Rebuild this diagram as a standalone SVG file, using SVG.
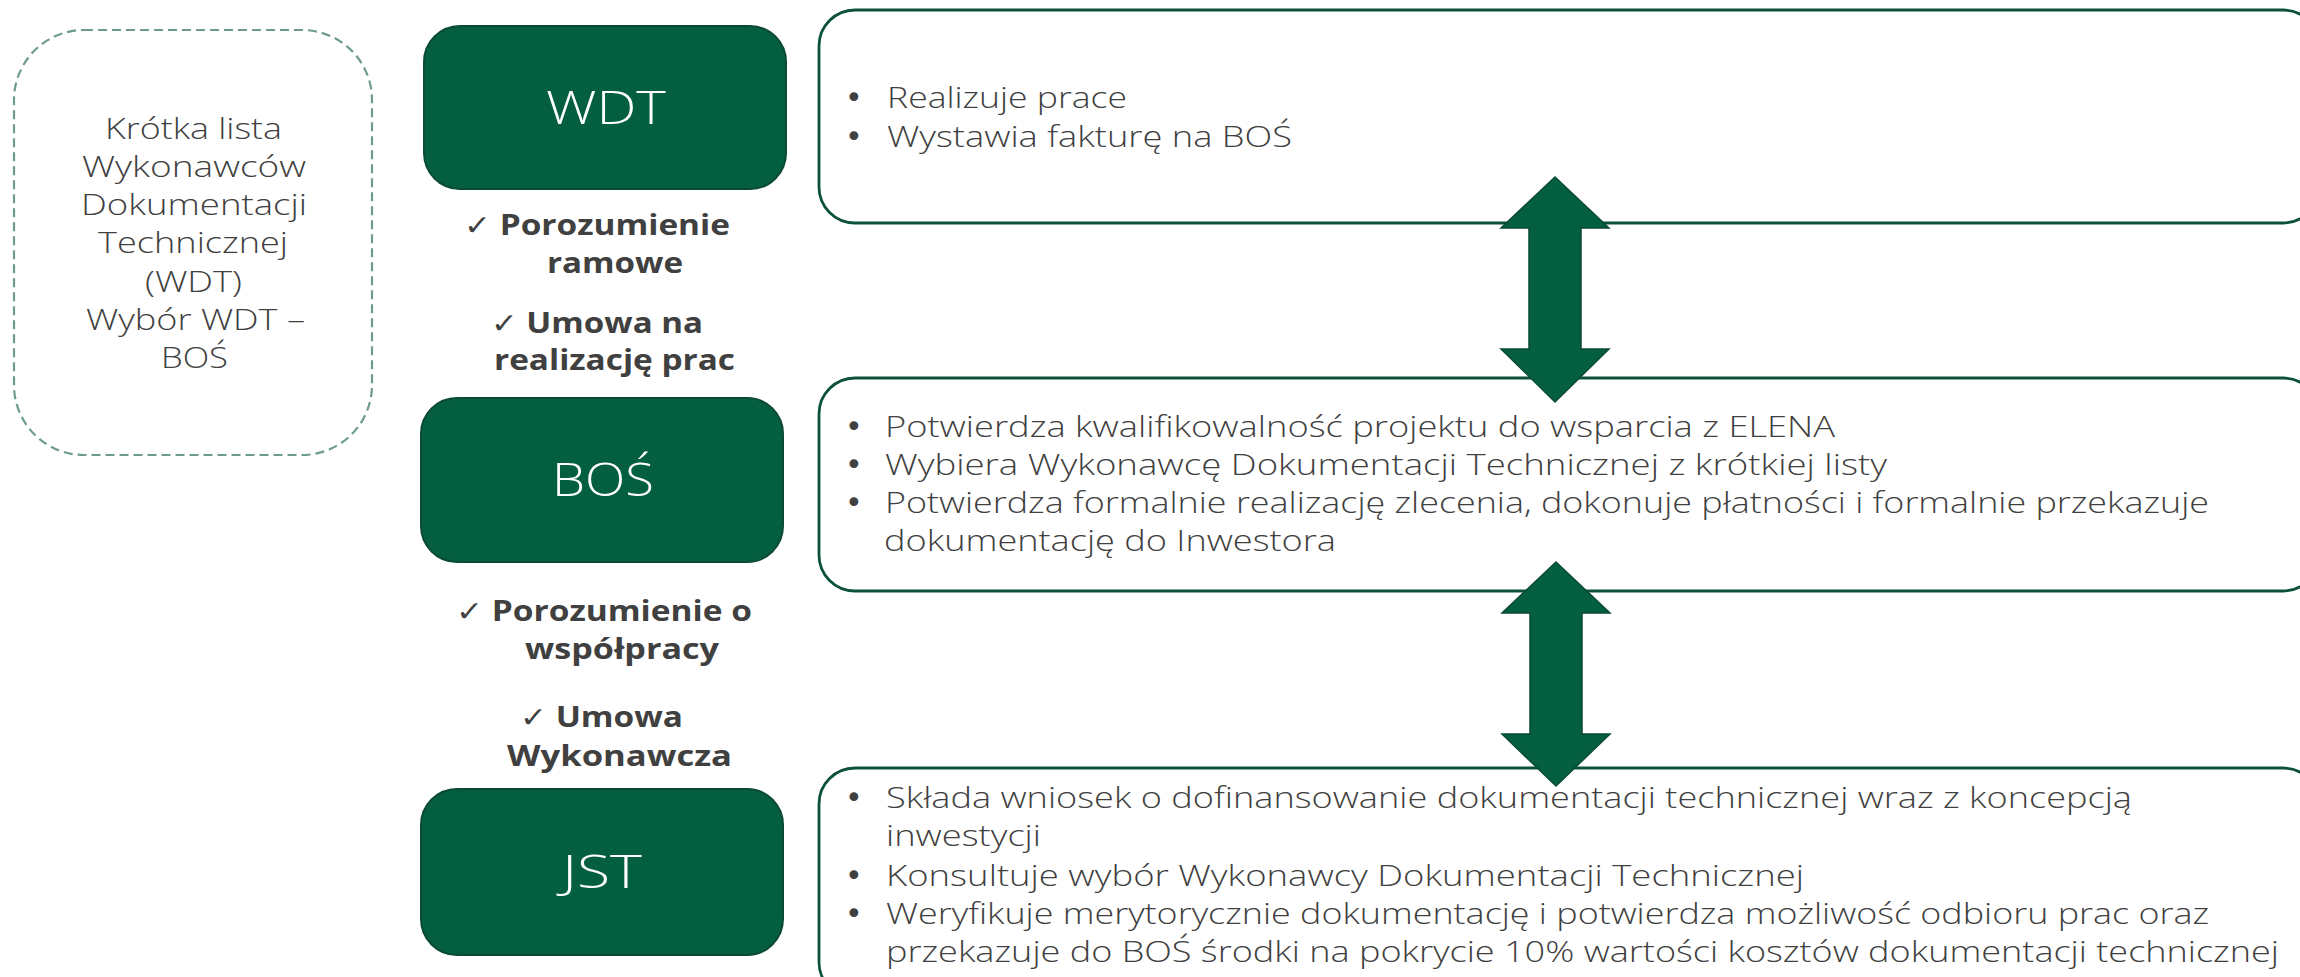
<svg xmlns="http://www.w3.org/2000/svg" width="2300" height="977" viewBox="0 0 2300 977">
<style>
.bg{fill:#ffffff}
.dash{fill:none;stroke:#6E9C8B;stroke-width:2.2;stroke-dasharray:9 5}
.gbox{fill:#035F40;stroke:#0B4A33;stroke-width:2}
.wbox{fill:#ffffff;stroke:#0B5236;stroke-width:2.8}
.title{font-family:"Open Sans","Liberation Sans",sans-serif;font-weight:300;font-size:46px;fill:#ffffff}
.body{font-family:"Open Sans","Liberation Sans",sans-serif;font-weight:300;font-size:30px;fill:#404040}
.bul{font-family:"DejaVu Sans",sans-serif;font-size:30px;fill:#404040}
.lbl{font-family:"Open Sans","Liberation Sans",sans-serif;font-weight:700;font-size:29px;fill:#404040}
.chk{font-family:"DejaVu Sans",sans-serif;font-weight:400;font-size:28px}
.arrow{fill:#035F40;stroke:#0B4A33;stroke-width:1.5}
</style>
<rect class="bg" x="0" y="0" width="2300" height="977"/>

<g id="shortlist">
<rect class="dash" x="14" y="30" width="358" height="425" rx="70" ry="70"/>
<text class="body" x="105" y="139" textLength="177" lengthAdjust="spacingAndGlyphs">Krótka lista</text>
<text class="body" x="82" y="177" textLength="224" lengthAdjust="spacingAndGlyphs">Wykonawców</text>
<text class="body" x="81" y="215" textLength="226" lengthAdjust="spacingAndGlyphs">Dokumentacji</text>
<text class="body" x="98" y="253" textLength="190" lengthAdjust="spacingAndGlyphs">Technicznej</text>
<text class="body" x="145" y="292" textLength="97" lengthAdjust="spacingAndGlyphs">(WDT)</text>
<text class="body" x="86" y="330" textLength="219" lengthAdjust="spacingAndGlyphs">Wybór WDT –</text>
<text class="body" x="161" y="368" textLength="67" lengthAdjust="spacingAndGlyphs">BOŚ</text>
</g>

<g id="wdt">
<rect class="gbox" x="424" y="26" width="362" height="163" rx="36" ry="36"/>
<text class="title" x="546" y="124" textLength="120" lengthAdjust="spacingAndGlyphs">WDT</text>
</g>

<g id="bos">
<rect class="gbox" x="421" y="398" width="362" height="164" rx="36" ry="36"/>
<text class="title" x="552" y="496" textLength="102" lengthAdjust="spacingAndGlyphs">BOŚ</text>
</g>

<g id="jst">
<rect class="gbox" x="421" y="789" width="362" height="166" rx="36" ry="36"/>
<text class="title" x="562" y="888" textLength="80" lengthAdjust="spacingAndGlyphs">JST</text>
</g>

<g id="agreements-wdt-bos">
<text class="lbl" x="464" y="235" textLength="266" lengthAdjust="spacingAndGlyphs"><tspan class="chk">✓</tspan> Porozumienie</text>
<text class="lbl" x="547" y="273" textLength="136" lengthAdjust="spacingAndGlyphs">ramowe</text>
<text class="lbl" x="491" y="333" textLength="212" lengthAdjust="spacingAndGlyphs"><tspan class="chk">✓</tspan> Umowa na</text>
<text class="lbl" x="494" y="370" textLength="241" lengthAdjust="spacingAndGlyphs">realizację prac</text>
</g>

<g id="agreements-bos-jst">
<text class="lbl" x="456" y="621" textLength="296" lengthAdjust="spacingAndGlyphs"><tspan class="chk">✓</tspan> Porozumienie o</text>
<text class="lbl" x="525" y="659" textLength="194" lengthAdjust="spacingAndGlyphs">współpracy</text>
<text class="lbl" x="520" y="727" textLength="163" lengthAdjust="spacingAndGlyphs"><tspan class="chk">✓</tspan> Umowa</text>
<text class="lbl" x="507" y="766" textLength="225" lengthAdjust="spacingAndGlyphs">Wykonawcza</text>
</g>

<g id="wdt-tasks">
<rect class="wbox" x="819" y="10" width="1500" height="213" rx="36" ry="36"/>
<text class="bul" x="845" y="108">•</text>
<text class="body" x="887" y="108" textLength="240" lengthAdjust="spacingAndGlyphs">Realizuje prace</text>
<text class="bul" x="845" y="147">•</text>
<text class="body" x="887" y="147" textLength="405" lengthAdjust="spacingAndGlyphs">Wystawia fakturę na BOŚ</text>
</g>

<g id="bos-tasks">
<rect class="wbox" x="819" y="378" width="1500" height="213" rx="36" ry="36"/>
<text class="bul" x="845" y="437">•</text>
<text class="body" x="885" y="437" textLength="950" lengthAdjust="spacingAndGlyphs">Potwierdza kwalifikowalność projektu do wsparcia z ELENA</text>
<text class="bul" x="845" y="475">•</text>
<text class="body" x="885" y="475" textLength="1002" lengthAdjust="spacingAndGlyphs">Wybiera Wykonawcę Dokumentacji Technicznej z krótkiej listy</text>
<text class="bul" x="845" y="513">•</text>
<text class="body" x="885" y="513" textLength="1324" lengthAdjust="spacingAndGlyphs">Potwierdza formalnie realizację zlecenia, dokonuje płatności i formalnie przekazuje</text>
<text class="body" x="884" y="551" textLength="452" lengthAdjust="spacingAndGlyphs">dokumentację do Inwestora</text>
</g>

<g id="jst-tasks">
<rect class="wbox" x="819" y="768" width="1500" height="230" rx="36" ry="36"/>
<text class="bul" x="845" y="808">•</text>
<text class="body" x="886" y="808" textLength="1246" lengthAdjust="spacingAndGlyphs">Składa wniosek o dofinansowanie dokumentacji technicznej wraz z koncepcją</text>
<text class="body" x="886" y="846" textLength="155" lengthAdjust="spacingAndGlyphs">inwestycji</text>
<text class="bul" x="845" y="886">•</text>
<text class="body" x="886" y="886" textLength="918" lengthAdjust="spacingAndGlyphs">Konsultuje wybór Wykonawcy Dokumentacji Technicznej</text>
<text class="bul" x="845" y="924">•</text>
<text class="body" x="886" y="924" textLength="1323" lengthAdjust="spacingAndGlyphs">Weryfikuje merytorycznie dokumentację i potwierdza możliwość odbioru prac oraz</text>
<text class="body" x="886" y="962" textLength="1393" lengthAdjust="spacingAndGlyphs">przekazuje do BOŚ środki na pokrycie 10% wartości kosztów dokumentacji technicznej</text>
</g>

<g id="connectors">
<polygon class="arrow" points="1555,177 1609,228 1581,228 1581,349 1609,349 1555,402 1501,349 1529,349 1529,228 1501,228"/>
<polygon class="arrow" points="1556,562 1610,613 1582,613 1582,734 1610,734 1556,786 1502,734 1530,734 1530,613 1502,613"/>
</g>
</svg>
